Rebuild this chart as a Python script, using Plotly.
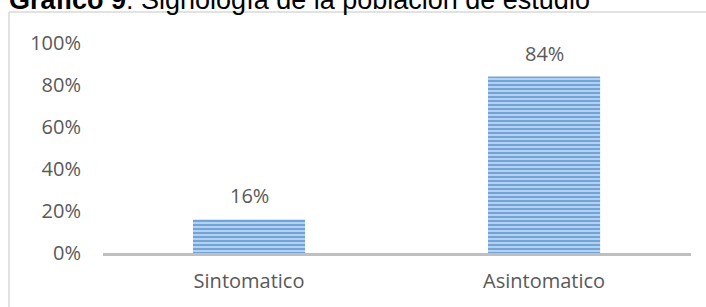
import plotly.graph_objects as go

categories = ["Sintomatico", "Asintomatico"]
values = [0.16, 0.84]
labels = ["16%", "84%"]
title_bold = "Gráfico 9"
title_rest = ": Signología de la población de estudio"

W, H = 706, 307
L, R, T, B = 103, 15, 43, 54
pw = W - L - R
ph = H - T - B

def px(x):
    return (x - L) / pw

def py(y):
    return (H - B - y) / ph

fig = go.Figure()
fig.add_trace(go.Bar(
    x=categories, y=values, width=0.38,
    marker=dict(color="#bdd7ee", line=dict(width=0),
                pattern=dict(shape="-", fgcolor="#6a9fd8", bgcolor="#b4d2f0",
                             size=4, solidity=0.45, fillmode="replace")),
    hoverinfo="skip",
))

for c, v, t in zip(categories, values, labels):
    fig.add_annotation(x=c, y=v, text=t, showarrow=False, yanchor="bottom",
                       yshift=8, font=dict(family="Open Sans", size=20, color="#595959"))

fig.add_annotation(xref="paper", yref="paper", x=px(7), y=py(17), xanchor="left",
                   yanchor="bottom", showarrow=False,
                   text=f"<b>{title_bold}</b>{title_rest}",
                   font=dict(family="Liberation Sans, Arial", size=27, color="#000000"))

# outer chart frame
fig.add_shape(type="line", xref="paper", yref="paper", x0=px(9), x1=px(720), y0=py(12), y1=py(12),
              line=dict(color="#d9d9d9", width=1.5))
fig.add_shape(type="line", xref="paper", yref="paper", x0=px(9), x1=px(9), y0=py(12), y1=py(320),
              line=dict(color="#d9d9d9", width=1.5))

fig.update_layout(
    width=W, height=H,
    margin=dict(l=L, r=R, t=T, b=B),
    paper_bgcolor="white", plot_bgcolor="white",
    showlegend=False,
    font=dict(family="Open Sans", size=20, color="#595959"),
    xaxis=dict(range=[-0.4949, 1.498], showline=True, linecolor="#bfbfbf", linewidth=3,
               ticks="", showgrid=False, tickfont=dict(size=20, color="#595959"), ticklabelstandoff=8),
    yaxis=dict(range=[0, 1], tickvals=[0, 0.2, 0.4, 0.6, 0.8, 1.0],
               ticktext=["0%", "20%", "40%", "60%", "80%", "100%"],
               showgrid=False, zeroline=False, showline=False, ticks="",
               tickfont=dict(size=20, color="#595959"), ticklabelstandoff=21),
)

fig.write_html("out.html", config={"displayModeBar": False},
               post_script="document.body.style.margin='0';")
